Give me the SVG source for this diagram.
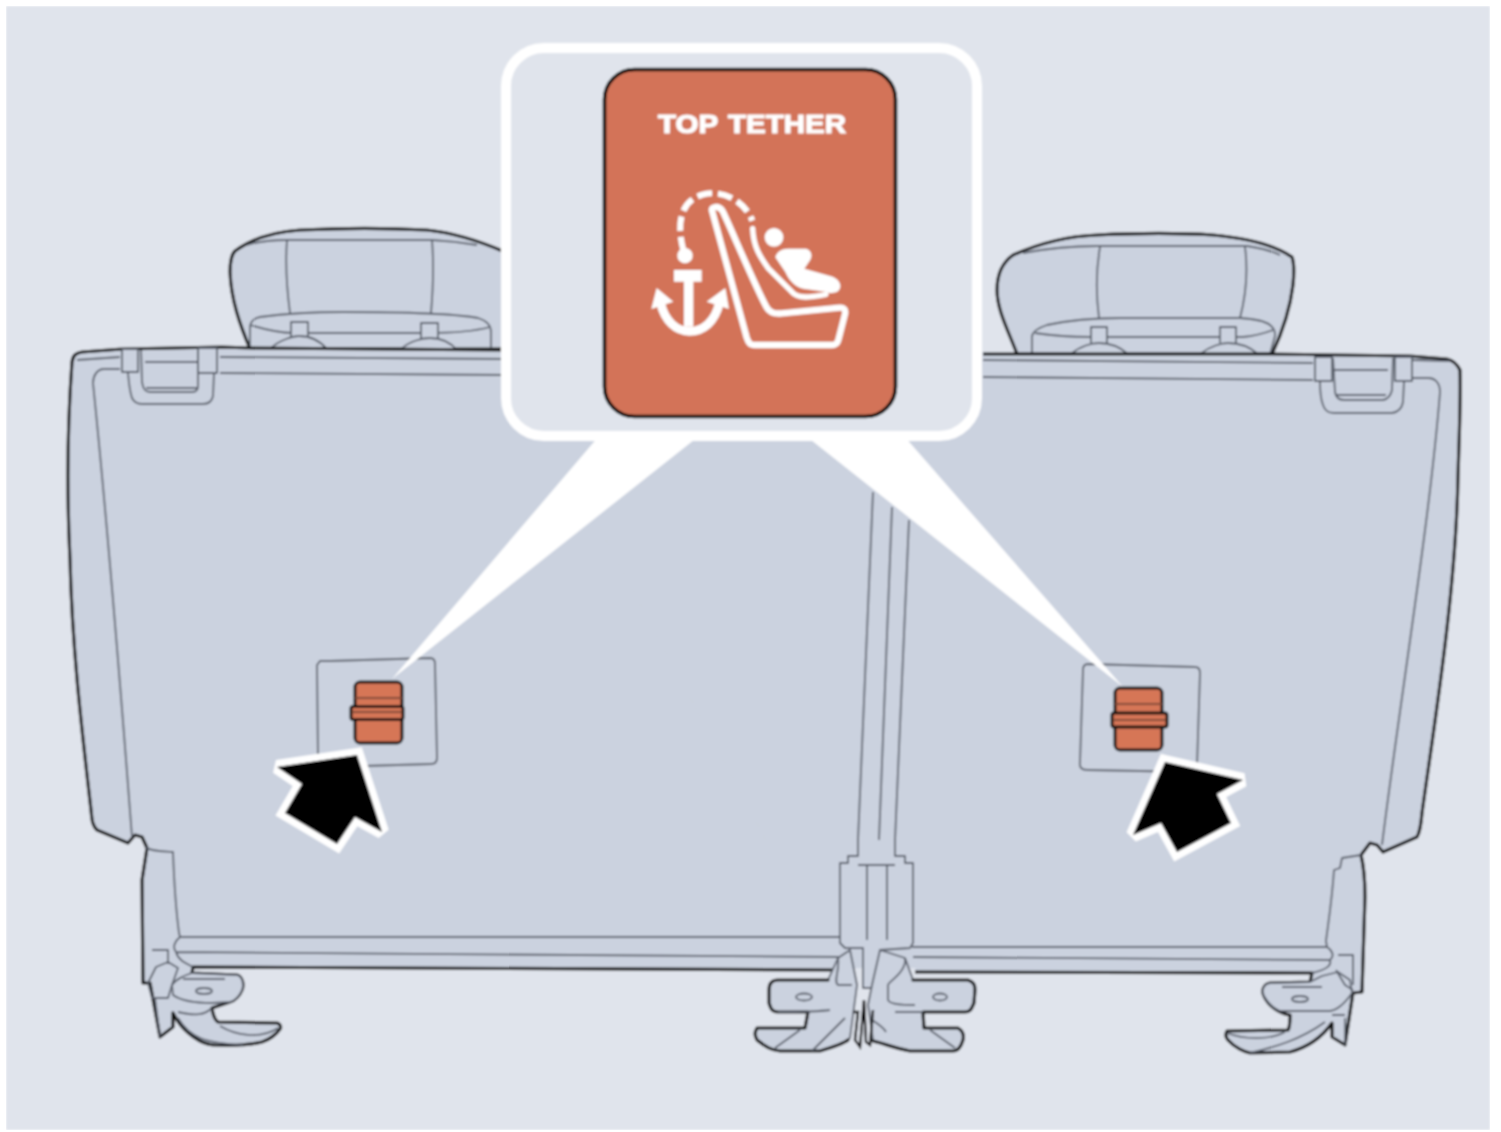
<svg xmlns="http://www.w3.org/2000/svg" width="1501" height="1132" viewBox="0 0 1501 1132">
<defs>
<filter id="soft" x="0" y="0" width="100%" height="100%"><feGaussianBlur stdDeviation="0.8"/></filter>
</defs>
<style>
.o{fill:#cbd2df;stroke:#0c0d0f;stroke-width:3.200;stroke-linejoin:round}
.ok{fill:none;stroke:#0c0d0f;stroke-width:3.200;stroke-linejoin:round;stroke-linecap:round}
.l{fill:none;stroke:#565c67;stroke-width:1.800;stroke-linejoin:round}
.f{fill:#cbd2df;stroke:#565c67;stroke-width:1.800;stroke-linejoin:round}
.c{fill:#d67657;stroke:#111;stroke-width:3}
.cl{fill:none;stroke:#7d4a38;stroke-width:1.800}
.a{fill:#000;stroke:#fff;stroke-width:14;paint-order:stroke;stroke-linejoin:miter;stroke-miterlimit:1.9}
.w{fill:#fff}
.ic{fill:none;stroke:#fff;stroke-linejoin:round}
</style>
<rect width="1501" height="1132" fill="#fff"/>
<g filter="url(#soft)">
<rect x="6" y="6" width="1484" height="1124" fill="#e0e4ec"/>

<g id="headrest-left">
<path class="o" d="M250,349C240,325 231,300 230,272C230,262 231,255 235,251C250,240 270,232 300,230C340,228 390,228 427,230C455,233 482,242 505,252L505,349Z"/>
<path class="l" d="M247,245C260,241 275,240 287,240L432,240C450,241 465,243 477,245"/>
<path class="l" d="M287,240C285,265 287,290 290,313M432,240C434,265 433,290 431,313"/>
<path class="l" d="M250,348V328C250,322 254,318 260,317C290,313 320,312 343,312C400,312 450,313 478,318C488,321 491,326 491,332V348"/>
<path class="l" d="M250,325C270,331 285,333 293,333H427C450,333 475,331 490,327"/>
<path class="f" d="M291,337V322H308V337M421,339V323H438V339"/>
<path class="f" d="M270,349C280,339 295,336 299,336C310,336 320,341 327,349M400,350C410,340 425,338 430,338C440,338 450,342 457,350"/>
</g>
<g id="headrest-right">
<path class="o" d="M1017,354C1008,330 997,310 997,290C997,272 1003,262 1013,255C1040,243 1070,236 1097,235C1140,233 1180,233 1213,235C1245,238 1275,245 1292,257C1295,265 1294,275 1293,285C1290,310 1282,333 1272,354Z"/>
<path class="l" d="M1023,253C1050,248 1075,246 1097,246H1247C1260,248 1272,251 1280,255"/>
<path class="l" d="M1100,247C1096,270 1096,295 1099,318M1245,247C1248,270 1246,295 1240,318"/>
<path class="l" d="M1032,354V336C1033,331 1038,328 1047,325C1070,320 1095,318 1120,318H1240C1255,319 1265,321 1270,325C1275,329 1275,332 1275,336L1270,354"/>
<path class="l" d="M1035,333C1055,336 1075,337 1090,337H1243C1255,336 1265,333 1273,330"/>
<path class="f" d="M1091,343V327H1107V343M1220,343V327H1236V343"/>
<path class="f" d="M1071,354C1080,346 1092,343 1099,343C1110,343 1120,347 1128,354M1200,354C1210,346 1222,343 1228,343C1240,343 1250,347 1258,354"/>
</g>

<rect id="seat-middle" x="500" y="352" width="490" height="616" fill="#cbd2df"/>
<g id="seat-left">
<path class="o" d="M835,970L193,967L192,973L237,975C243,977 244,985 242,990C240,995 235,1001 230,1002L212,1008C213,1015 215,1020 218,1022L277,1023C281,1024 281,1028 280,1029C275,1036 268,1040 262,1042C245,1046 230,1046 213,1045C200,1044 185,1032 177,1020L173,1013L173,1027L160,1037L150,983H143L142,880L147,848L142,837L135,835L128,843L97,830C92,825 92,820 91,810C83,740 72,650 70,560C67,500 67,430 72,362C73,355 76,353 82,352L122,349L222,347L250,348L505,350"/>
<path class="l" d="M77,360L120,357M220,357L505,359M220,373L505,375"/>
<path class="l" d="M120,369H104C97,369 93,376 93,383C105,500 120,680 132,837"/>
<path class="f" d="M122,349H138V372H122ZM198,348H217V373H198Z"/>
<path class="l" d="M128,373C129,385 130,392 132,398C134,402 137,404 142,404H203C209,404 212,401 213,396L214,373"/>
<path class="l" d="M141,350L142,382C143,389 145,392 150,392H192C196,392 198,390 198,386V350M145,362H198M146,388H198"/>
<path class="l" d="M145,847C150,851 160,851 173,852C174,880 176,910 179,933L180,937H840"/>
<path class="l" d="M180,937C175,941 172,947 176,952L840,957M176,952C178,960 185,963 193,967"/>
<path class="f" d="M192,973L237,975C243,977 244,985 242,990C240,995 235,1001 230,1002L212,1003C195,1003 180,1000 173,995L172,985C175,980 185,975 192,973Z"/>
<ellipse class="f" cx="204" cy="991" rx="8" ry="3"/>
<path class="l" d="M183,979H225M148,983L156,967L168,962L178,968L172,985L168,998H152ZM152,950H168V964M155,998L160,1037M178,1012C195,1016 205,1015 212,1008M220,1026C235,1035 260,1040 278,1028M178,1018C190,1038 205,1043 243,1045"/>
</g>

<g id="seat-right">
<path class="o" d="M983,354H1270L1410,356L1447,359C1452,360 1456,362 1460,370C1461,400 1459,440 1458,477C1456,590 1435,720 1422,813C1421,825 1420,832 1417,837L1383,852L1377,845L1370,843L1361,855C1364,867 1365,880 1365,897L1362,992L1353,993L1345,1045L1332,1037V1023C1320,1040 1305,1048 1290,1052L1250,1053C1245,1052 1235,1048 1228,1040C1226,1038 1225,1035 1227,1031L1288,1030C1290,1027 1290,1020 1290,1015C1278,1013 1268,1005 1264,996C1261,990 1264,984 1270,983L1310,982L1312,973L915,972"/>
<path class="l" d="M983,360L1313,363M983,377L1313,380M1412,360L1450,361"/>
<path class="l" d="M1412,378H1428C1436,378 1440,384 1440,392C1430,520 1400,700 1382,845"/>
<path class="f" d="M1315,357H1332V381H1315ZM1395,357H1412V381H1395Z"/>
<path class="l" d="M1320,381C1320,392 1321,400 1323,405C1325,411 1328,413 1334,413H1392C1398,412 1402,408 1403,402L1404,381"/>
<path class="l" d="M1333,358L1335,392C1336,398 1339,400 1344,400H1383C1388,399 1391,395 1392,390L1393,358M1333,370H1388M1336,395H1386"/>
<path class="l" d="M1361,855L1342,858L1340,868L1334,870C1332,900 1328,925 1326,941L1327,947H912"/>
<path class="l" d="M1327,947C1332,950 1335,956 1330,960L913,957M1330,960C1332,966 1325,970 1312,973"/>
<path class="f" d="M1310,982L1270,983C1264,984 1261,990 1264,996C1268,1003 1272,1008 1280,1011L1330,1011C1338,1010 1345,1003 1352,993L1350,980L1338,972L1322,976Z"/>
<ellipse class="f" cx="1300" cy="999" rx="8" ry="3"/>
<path class="l" d="M1282,987H1322M1336,970L1345,985L1353,990M1338,955H1353V985M1345,1018L1345,1045M1332,1015H1345M1227,1033C1245,1040 1270,1040 1285,1032M1250,1053C1275,1047 1300,1040 1325,1022"/>
</g>

<g id="center-divider">
<path class="l" d="M873,492L858,840M892,507L879,840M909,520L895,840"/>
<path class="f" d="M858,840V856H848V863H840V943L845,948H863V988H880V950L910,948L913,943V863H905V856H895V840"/>
<path class="l" d="M858,865H895M867,866V940M887,866V940"/>
<path class="f" d="M838,958L828,980H778C771,980 769,984 769,990V1003C771,1010 773,1012 778,1012H808L805,1028H757C754,1033 755,1036 757,1040C765,1046 770,1050 780,1051H820C830,1048 843,1044 850,1038L855,1000L857,985L850,950Z"/>
<path class="f" d="M905,958L913,980H968C974,982 975,985 975,990L974,1003C971,1010 970,1012 965,1012H923L924,1028H958C963,1031 964,1036 963,1040C961,1047 958,1051 953,1051H910C895,1048 880,1044 873,1040L868,1005L872,985L880,950Z"/>
<path class="ok" d="M828,980H778C771,980 769,984 769,990V1003C771,1010 773,1012 778,1012H808L805,1028H757C754,1033 755,1036 757,1040C765,1046 770,1050 780,1051H820C830,1048 843,1044 848,1040M913,980H968C974,982 975,985 975,990L974,1003C971,1010 970,1012 965,1012H923L924,1028H958C963,1031 964,1036 963,1040C961,1047 958,1051 953,1051H910C895,1048 885,1044 873,1041"/>
<ellipse class="f" cx="804" cy="997" rx="8" ry="3.500"/>
<ellipse class="f" cx="940" cy="997" rx="7" ry="3.500"/>
<path class="l" d="M838,958C840,970 833,982 838,985H852M905,958C907,972 888,982 888,985V1000C890,1005 905,1005 915,1005M830,1010C815,1012 795,1012 778,1012M895,1012H923M800,1030L775,1048M845,1018L812,1051M930,1030L955,1048M872,1020C880,1025 885,1030 886,1032"/>
<path d="M853,1012L858,1012L855,1040L860,1047L864,1000L866,1042L870,1045L873,1010" fill="none" stroke="#000" stroke-width="2.400"/>
</g>

<g id="plate-left">
<path class="l" d="M320,661H330L430,658C434,658 435,661 435,664L437,758C437,762 435,764 431,764L330,767C323,767 318,765 318,760L317,665Z"/>
</g>
<g id="plate-right">
<path class="l" d="M1088,664L1195,667C1199,667 1200,669 1200,673L1197,766C1197,770 1195,772 1191,772L1088,770C1082,770 1079,768 1080,762L1083,670C1083,666 1085,664 1088,664Z"/>
</g>

<g id="callout-wedges">
<polygon class="w" points="599,436 699,436 392,679"/>
<polygon class="w" points="806,436 904,436 1123,687"/>
</g>
<g id="callout">
<rect x="506" y="48" width="471" height="388" rx="38" fill="#e0e4ec" stroke="#fff" stroke-width="10"/>
<rect x="604.500" y="69.500" width="291" height="347" rx="30" fill="#d37358" stroke="#000" stroke-width="3.600"/>
<text x="752" y="133" font-family="'Liberation Sans',Arial,sans-serif" font-weight="700" font-size="26" fill="#fff" stroke="#fff" stroke-width="1.100" text-anchor="middle" word-spacing="2" textLength="188" lengthAdjust="spacingAndGlyphs">TOP TETHER</text>
<g id="icon" transform="translate(590,60) scale(0.33333)">
<path class="ic" stroke-width="19" d="M366,452C362,440 385,435 397,452C410,475 500,690 530,742C540,760 555,762 575,760L750,743C762,742 768,750 765,762L745,840C742,852 735,855 725,855H495C480,855 475,848 470,832Z"/>
<path class="ic" stroke-width="16" stroke-linecap="round" d="M488,506C490,560 510,590 535,625L605,695C625,718 660,712 708,703"/>
<path class="ic" stroke-width="18" stroke-dasharray="44 18" d="M281,574C262,505 262,425 340,403C400,388 465,425 487,482"/>
<circle cx="285" cy="587" r="23" fill="#fff"/>
<circle cx="552" cy="532" r="28" fill="#fff"/>
<path fill="#fff" d="M556,592C560,575 575,566 595,566H648C665,570 670,590 657,605L643,626L728,650C752,660 757,682 744,694C732,702 715,699 705,695L640,686C612,680 596,658 586,636Z"/>
<path fill="#fff" d="M252,630H335V665H310V800H282V665H252Z"/>
<path class="ic" stroke-width="26" d="M212,730C225,785 260,814 298,814C340,814 375,785 388,730"/>
<path fill="#fff" d="M200,684L184,747L250,725ZM406,684L417,747L350,725Z"/>
</g>
</g>

<g id="clip-left">
<rect class="c" x="355" y="682" width="47" height="61" rx="5"/>
<path class="cl" d="M355,698H402"/>
<rect class="c" x="351" y="706.500" width="52" height="13" rx="2"/>
<path class="cl" d="M353,712H401"/>
</g>
<g id="clip-right">
<rect class="c" x="1115" y="688" width="47" height="62" rx="5"/>
<path class="cl" d="M1115,704H1162"/>
<rect class="c" x="1112" y="713" width="55" height="14" rx="2"/>
<path class="cl" d="M1114,720H1165"/>
</g>
<polygon id="arrow-left" class="a" points="277,767 357,755 382,832 355,817 337,844 285,813 302,784"/>
<polygon id="arrow-right" class="a" points="1165,762 1243,780 1217,794 1231,823 1177,852 1161,823 1133,835"/>
</g>
</svg>
